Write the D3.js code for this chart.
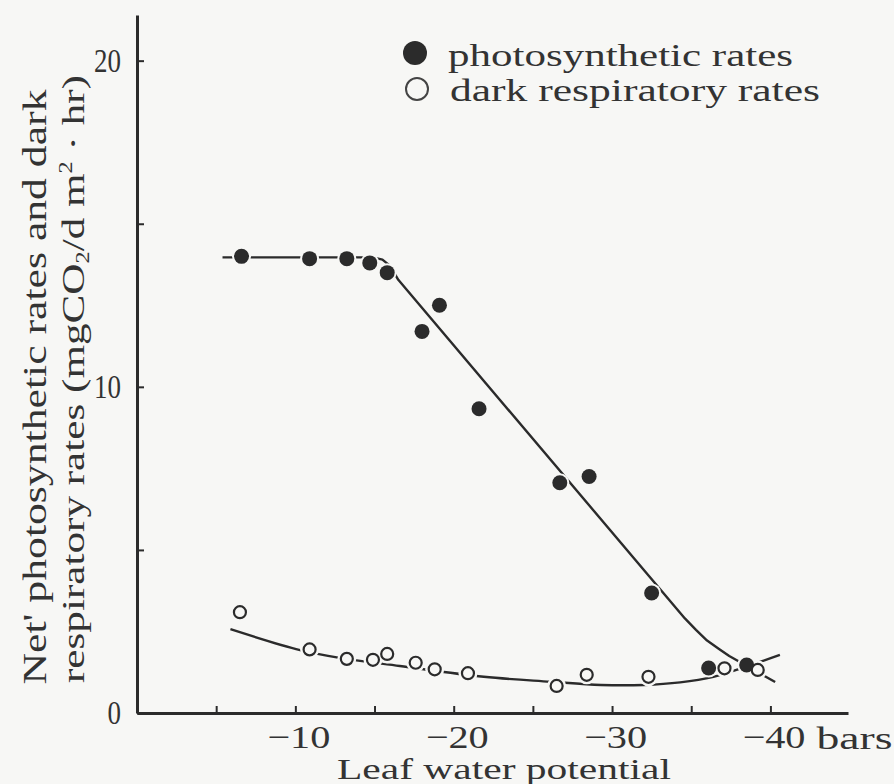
<!DOCTYPE html>
<html>
<head>
<meta charset="utf-8">
<script src="https://cdn.jsdelivr.net/npm/d3@7"></script>
<style>
  body { margin: 0; background: #f7f7f5; }
  svg { display: block; }
  text { font-family: "Liberation Serif", "DejaVu Serif", serif; fill: #333; }
</style>
</head>
<body>
<div id="chart"></div>
<script>
// measured points (leaf water potential in bars, rate in mgCO2/dm2.hr)
const photoX = [-6.6, -10.9, -13.25, -14.7, -15.8, -19.1, -18.0, -21.6, -26.7, -28.55, -32.5, -36.1, -38.5];
const photoY = [14.0, 13.93, 13.93, 13.8, 13.5, 12.5, 11.7, 9.33, 7.06, 7.25, 3.68, 1.38, 1.47];
const respX = [-6.5, -10.9, -13.25, -14.9, -15.8, -17.6, -18.8, -20.9, -26.5, -28.4, -32.3, -37.1, -39.2];
const respY = [3.09, 1.95, 1.66, 1.63, 1.81, 1.54, 1.34, 1.22, 0.83, 1.17, 1.11, 1.37, 1.32];

// hand drawn fit lines
const photoFitX = [-5.4, -14.9, -15.5, -16.0, -16.5, -34.6, -35.3, -36.0, -36.8, -37.4, -40.3];
const photoFitY = [13.97, 13.97, 13.9, 13.7, 13.28, 2.9, 2.55, 2.22, 1.95, 1.75, 0.95];
const respFitX = [-5.9, -10.3, -12.8, -16.6, -21.9, -26.1, -29.3, -32.0, -34.3, -36.4, -38.4, -40.6];
const respFitY = [2.57, 1.93, 1.69, 1.44, 1.11, 0.96, 0.86, 0.86, 0.94, 1.11, 1.41, 1.78];

const xTicks = [-5, -10, -15, -20, -25, -30, -35, -40];
const yTicks = [0, 5, 10, 15, 20];

const width = 894, height = 784;
const bg = '#f7f7f5', ink = '#2b2b2b';

const svg = d3.select('#chart').append('svg')
  .attr('width', width)
  .attr('height', height);

svg.append('rect').attr('width', width).attr('height', height).attr('fill', bg);

const x = d3.scaleLinear().domain([0, -44.9]).range([137, 848]);
const y = d3.scaleLinear().domain([0, 21.4]).range([713, 15]);

// axes
const yAxis = svg.append('g')
  .attr('transform', 'translate(' + x(0) + ',0)')
  .call(d3.axisLeft(y).tickValues(yTicks).tickSize(-7).tickSizeOuter(0).tickPadding(16)
    .tickFormat(d => d % 10 === 0 ? d : ''));
yAxis.select('.domain').attr('stroke', ink).attr('stroke-width', 3);
yAxis.selectAll('.tick line').attr('stroke', ink).attr('stroke-width', 2);
yAxis.selectAll('.tick text')
  .attr('font-size', 34)
  .attr('fill', '#333')
  .attr('font-family', 'Liberation Serif')
  .each(function(d) {
    const s = String(d);
    if (s.length) d3.select(this).attr('textLength', s.length * 13.5).attr('lengthAdjust', 'spacingAndGlyphs');
  });

const xAxis = svg.append('g')
  .attr('transform', 'translate(0,' + y(0) + ')')
  .call(d3.axisBottom(x).tickValues(xTicks).tickSize(-7).tickSizeOuter(0).tickPadding(12)
    .tickFormat(d => d % 10 === 0 ? '\u2212' + Math.abs(d) : ''));
xAxis.select('.domain').attr('stroke', ink).attr('stroke-width', 3);
xAxis.selectAll('.tick line').attr('stroke', ink).attr('stroke-width', 2);
xAxis.selectAll('.tick text')
  .attr('font-size', 32)
  .attr('fill', '#333')
  .attr('font-family', 'Liberation Serif')
  .attr('dx', 3)
  .each(function(d) {
    if (d % 10 === 0) d3.select(this).attr('textLength', 63).attr('lengthAdjust', 'spacingAndGlyphs');
  });

svg.append('text')
  .attr('x', x(-40) + 46)
  .attr('y', 749)
  .attr('font-size', 32)
  .attr('textLength', 76)
  .attr('lengthAdjust', 'spacingAndGlyphs')
  .text('bars');

svg.append('text')
  .attr('x', 337)
  .attr('y', 779)
  .attr('font-size', 30)
  .attr('textLength', 334)
  .attr('lengthAdjust', 'spacingAndGlyphs')
  .text('Leaf water potential');

// y title, two lines
svg.append('text')
  .attr('transform', 'translate(46,387) rotate(-90)')
  .attr('text-anchor', 'middle')
  .attr('font-size', 34)
  .attr('textLength', 595)
  .attr('lengthAdjust', 'spacingAndGlyphs')
  .text("Net' photosynthetic rates and dark");

const t2 = svg.append('text')
  .attr('transform', 'translate(84,379) rotate(-90)')
  .attr('text-anchor', 'middle')
  .attr('font-size', 32)
  .attr('textLength', 608)
  .attr('lengthAdjust', 'spacingAndGlyphs');
t2.append('tspan').text('respiratory rates  (mgCO');
t2.append('tspan').attr('font-size', 18).attr('dy', 5).text('2');
t2.append('tspan').attr('dy', -5).text('/d  m');
t2.append('tspan').attr('font-size', 18).attr('dy', -12).text('2');
t2.append('tspan').attr('dy', 12).text(' \u00b7 hr)');

// fit lines
const photoLine = d3.line().x(d => x(d[0])).y(d => y(d[1]));
const respLine = d3.line().x(d => x(d[0])).y(d => y(d[1])).curve(d3.curveCatmullRom);
svg.append('path')
  .datum(d3.zip(photoFitX, photoFitY))
  .attr('d', photoLine)
  .attr('fill', 'none').attr('stroke', ink).attr('stroke-width', 2.4)
  .attr('stroke-linejoin', 'round');
svg.append('path')
  .datum(d3.zip(respFitX, respFitY))
  .attr('d', respLine)
  .attr('fill', 'none').attr('stroke', ink).attr('stroke-width', 2.4);

// markers with a little halo so lines break at them
const photo = d3.zip(photoX, photoY);
const resp = d3.zip(respX, respY);

svg.append('g').selectAll('circle').data(photo.concat(resp)).join('circle')
  .attr('cx', d => x(d[0])).attr('cy', d => y(d[1]))
  .attr('r', 9.5).attr('fill', bg);

svg.append('g').selectAll('circle').data(photo).join('circle')
  .attr('cx', d => x(d[0])).attr('cy', d => y(d[1]))
  .attr('r', 7.5).attr('fill', ink);

svg.append('g').selectAll('circle').data(resp).join('circle')
  .attr('cx', d => x(d[0])).attr('cy', d => y(d[1]))
  .attr('r', 6).attr('fill', bg).attr('stroke', ink).attr('stroke-width', 2.2);

// legend
svg.append('circle').attr('cx', 415).attr('cy', 53).attr('r', 12).attr('fill', ink);
svg.append('text').attr('x', 448).attr('y', 66).attr('font-size', 32)
  .attr('textLength', 345).attr('lengthAdjust', 'spacingAndGlyphs')
  .text('photosynthetic rates');
svg.append('circle').attr('cx', 417).attr('cy', 89).attr('r', 11)
  .attr('fill', bg).attr('stroke', '#444').attr('stroke-width', 2);
svg.append('text').attr('x', 450).attr('y', 101).attr('font-size', 32)
  .attr('textLength', 370).attr('lengthAdjust', 'spacingAndGlyphs')
  .text('dark respiratory rates');
</script>
</body>
</html>
